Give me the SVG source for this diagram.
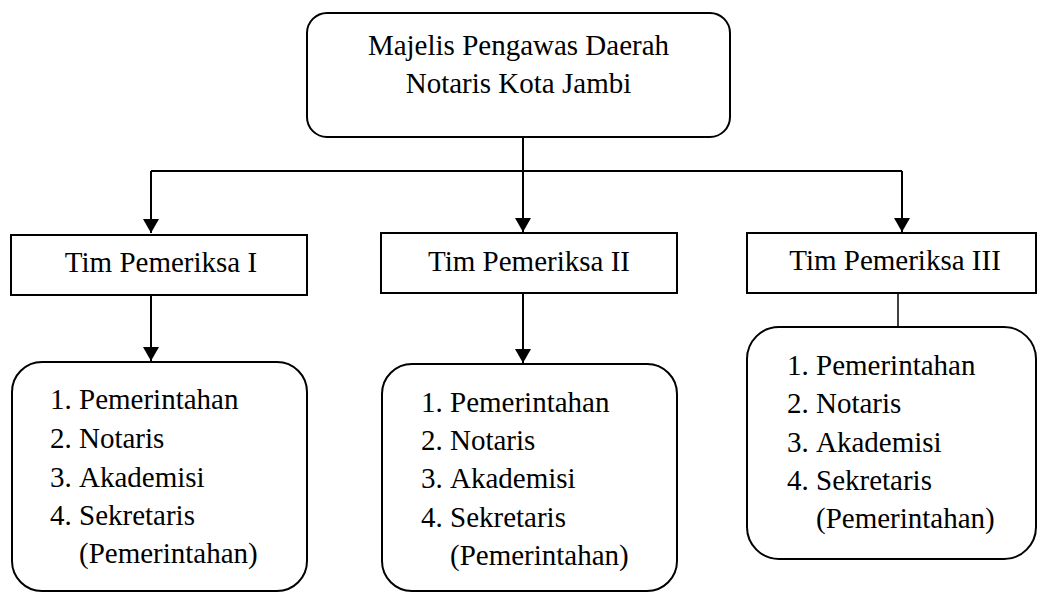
<svg xmlns="http://www.w3.org/2000/svg" width="1038" height="592" viewBox="0 0 1038 592">
<style>
  .box{fill:#fff;stroke:#000;stroke-width:2}
  .t{font-family:"Liberation Serif","Times New Roman",serif;font-size:29px;fill:#000}
  .c{text-anchor:middle}
  .ln{fill:none;stroke:#000;stroke-width:2}
</style>
<defs>
  <marker id="arr" markerUnits="userSpaceOnUse" markerWidth="16" markerHeight="16" refX="14" refY="8" orient="auto">
    <path d="M0,0 L14,8 L0,16 z" fill="#000"/>
  </marker>
</defs>
<g id="connectors">
  <path class="ln" d="M523,137 V171"/>
  <path class="ln" d="M151,171 H902"/>
  <path class="ln" d="M151,171 V233" marker-end="url(#arr)"/>
  <path class="ln" d="M523,171 V232" marker-end="url(#arr)"/>
  <path class="ln" d="M902,171 V232" marker-end="url(#arr)"/>
  <path class="ln" d="M151,295 V361" marker-end="url(#arr)"/>
  <path class="ln" d="M523,293 V363" marker-end="url(#arr)"/>
  <path class="ln" d="M898,275 V327" style="stroke-width:1.5"/>
</g>
<g id="mpd">
  <rect class="box" x="307" y="13" width="423" height="124" rx="20"/>
  <text class="t c" x="518.5" y="55">Majelis Pengawas Daerah</text>
  <text class="t c" x="518.5" y="93">Notaris Kota Jambi</text>
</g>
<g id="tim1">
  <rect class="box" x="11" y="235" width="296" height="60"/>
  <text class="t c" x="161" y="272">Tim Pemeriksa I</text>
</g>
<g id="tim2">
  <rect class="box" x="381" y="233" width="296" height="60"/>
  <text class="t c" x="529" y="271">Tim Pemeriksa II</text>
</g>
<g id="tim3">
  <rect class="box" x="747" y="233" width="289" height="60"/>
  <text class="t c" x="895" y="270">Tim Pemeriksa III</text>
</g>
<g id="anggota1">
  <rect class="box" x="12" y="362" width="295" height="229" rx="30"/>
  <text class="t" y="409"><tspan x="50">1.</tspan><tspan x="79">Pemerintahan</tspan></text>
  <text class="t" y="448"><tspan x="50">2.</tspan><tspan x="79">Notaris</tspan></text>
  <text class="t" y="487"><tspan x="50">3.</tspan><tspan x="79">Akademisi</tspan></text>
  <text class="t" y="525"><tspan x="50">4.</tspan><tspan x="79">Sekretaris</tspan></text>
  <text class="t" x="79" y="563">(Pemerintahan)</text>
</g>
<g id="anggota2">
  <rect class="box" x="382" y="364" width="295" height="227" rx="30"/>
  <text class="t" y="412"><tspan x="421">1.</tspan><tspan x="450">Pemerintahan</tspan></text>
  <text class="t" y="450"><tspan x="421">2.</tspan><tspan x="450">Notaris</tspan></text>
  <text class="t" y="488"><tspan x="421">3.</tspan><tspan x="450">Akademisi</tspan></text>
  <text class="t" y="527"><tspan x="421">4.</tspan><tspan x="450">Sekretaris</tspan></text>
  <text class="t" x="450" y="565">(Pemerintahan)</text>
</g>
<g id="anggota3">
  <rect class="box" x="747" y="327" width="289" height="232" rx="32"/>
  <text class="t" y="375"><tspan x="787">1.</tspan><tspan x="816">Pemerintahan</tspan></text>
  <text class="t" y="413"><tspan x="787">2.</tspan><tspan x="816">Notaris</tspan></text>
  <text class="t" y="452"><tspan x="787">3.</tspan><tspan x="816">Akademisi</tspan></text>
  <text class="t" y="490"><tspan x="787">4.</tspan><tspan x="816">Sekretaris</tspan></text>
  <text class="t" x="816" y="528">(Pemerintahan)</text>
</g>
</svg>
